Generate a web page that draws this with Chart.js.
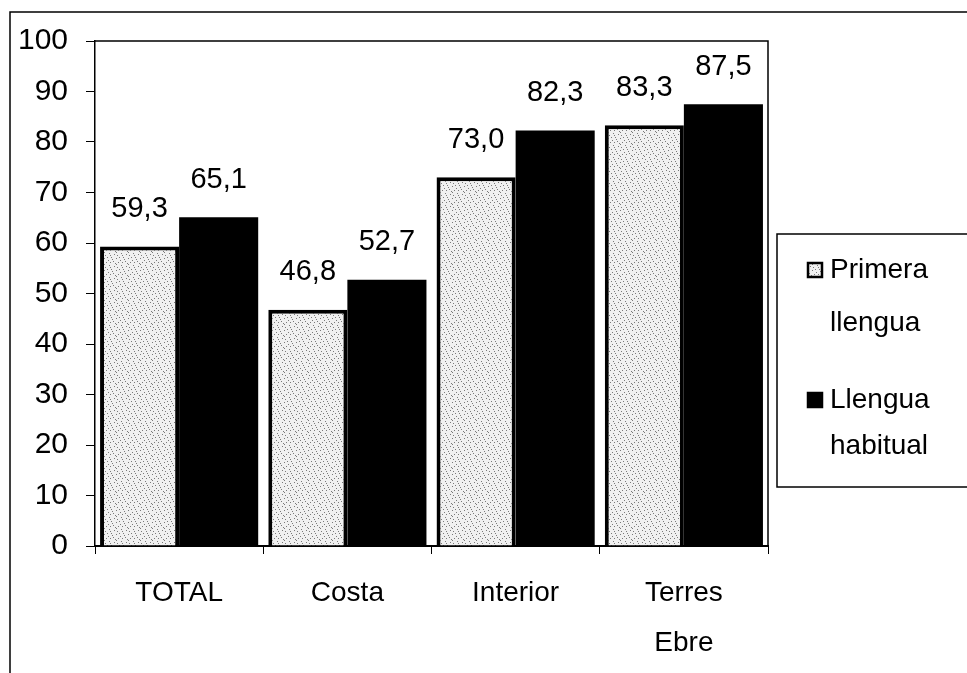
<!DOCTYPE html>
<html>
<head>
<meta charset="utf-8">
<script src="https://cdn.jsdelivr.net/npm/chart.js@4/dist/chart.umd.min.js"></script>
<style>
    body { margin: 0; background: #fff; }
    #wrap { width: 967px; height: 673px; position: relative; }
</style>
</head>
<body>
<div id="wrap"><canvas id="myChart"></canvas></div>
<script>
const categories = ["TOTAL", "Costa", "Interior", ["Terres", "Ebre"]];
const primeraLlengua = [59.3, 46.8, 73.0, 83.3];
const llenguaHabitual = [65.1, 52.7, 82.3, 87.5];
const seriesNames = ["Primera llengua", "Llengua habitual"];
const yTicks = [0, 10, 20, 30, 40, 50, 60, 70, 80, 90, 100];

const FONT = "'Liberation Sans', Arial, sans-serif";

function fmtVal(v) {
    return v.toFixed(1).replace(".", ",");
}

// light stipple, a fixed dot layout
function stipple() {
    const c = document.createElement("canvas");
    c.width = 12;
    c.height = 12;
    const g = c.getContext("2d");
    g.fillStyle = "#f0f0f0";
    g.fillRect(0, 0, 12, 12);
    const dots = [
        [1, 1], [6, 2], [3, 5], [8, 6], [0, 8], [5, 9], [9, 3], [2, 3],
        [10, 10], [7, 11], [11, 5], [4, 7], [8, 0], [2, 10],
    ];
    g.fillStyle = "#7a7a7a";
    for (const [x, y] of dots) {
        g.fillRect(x, y, 1, 1);
    }
    return g.createPattern(c, "repeat");
}

const grayFill = stipple();

const valueLabels = {
    id: "valueLabels",
    afterDatasetsDraw(chart) {
        const ctx = chart.ctx;
        ctx.save();
        ctx.font = `29px ${FONT}`;
        ctx.fillStyle = "#000";
        ctx.textAlign = "center";
        ctx.textBaseline = "bottom";
        chart.data.datasets.forEach((ds, i) => {
            chart.getDatasetMeta(i).data.forEach((bar, j) => {
                ctx.fillText(fmtVal(ds.data[j]), bar.x, bar.y - 23);
            });
        });
        ctx.restore();
    },
};

const frames = {
    id: "frames",
    afterDraw(chart) {
        const ctx = chart.ctx;
        const a = chart.chartArea;
        ctx.save();
        ctx.strokeStyle = "#000";
        ctx.lineWidth = 1.5;
        // outer frame
        ctx.beginPath();
        ctx.moveTo(10, 673);
        ctx.lineTo(10, 12);
        ctx.lineTo(967, 12);
        ctx.stroke();
        // plot frame top and right
        ctx.beginPath();
        ctx.moveTo(a.left, a.top);
        ctx.lineTo(a.right, a.top);
        ctx.lineTo(a.right, a.bottom);
        ctx.stroke();

        // legend box
        ctx.strokeRect(777, 234, 220, 253);
        const fills = [grayFill, "#000"];
        const rows = [270, 400];
        const gaps = [53, 46];
        ctx.font = `28px ${FONT}`;
        ctx.textBaseline = "middle";
        ctx.textAlign = "left";
        chart.data.datasets.forEach((ds, i) => {
            const y = rows[i];
            ctx.fillStyle = fills[i];
            ctx.fillRect(808, y - 7, 14, 14);
            ctx.lineWidth = 2.5;
            ctx.strokeRect(808, y - 7, 14, 14);
            ctx.fillStyle = "#000";
            ds.label.split(" ").forEach((word, k) => {
                ctx.fillText(word, 830, y + k * gaps[i]);
            });
        });
        ctx.restore();
    },
};

function main() {
    const ctx = document.getElementById("myChart");

    new Chart(ctx, {
        type: "bar",
        data: {
            labels: categories,
            datasets: [
                {
                    label: seriesNames[0],
                    data: primeraLlengua,
                    backgroundColor: grayFill,
                    borderColor: "#000",
                    borderWidth: 4,
                    borderSkipped: "bottom",
                    barPercentage: 1,
                    categoryPercentage: 0.94,
                },
                {
                    label: seriesNames[1],
                    data: llenguaHabitual,
                    backgroundColor: "#000",
                    borderWidth: 0,
                    barPercentage: 1,
                    categoryPercentage: 0.94,
                },
            ],
        },
        options: {
            responsive: true,
            maintainAspectRatio: false,
            animation: false,
            layout: {
                padding: { left: 0, top: 41, right: 199, bottom: 0 },
            },
            plugins: {
                legend: { display: false },
                tooltip: { enabled: false },
            },
            scales: {
                x: {
                    afterFit: (s) => { s.height = 127; },
                    grid: {
                        display: true,
                        drawOnChartArea: false,
                        offset: true,
                        color: "#000",
                        tickLength: 8,
                    },
                    border: { color: "#000", width: 2 },
                    ticks: {
                        color: "#000",
                        font: { family: FONT, size: 28, lineHeight: 1.8 },
                        padding: 14,
                        maxRotation: 0,
                    },
                },
                y: {
                    min: 0,
                    max: 100,
                    afterFit: (s) => { s.width = 95; },
                    afterBuildTicks: (s) => {
                        s.ticks = yTicks.map((v) => ({ value: v }));
                    },
                    grid: {
                        display: true,
                        drawOnChartArea: false,
                        color: "#000",
                        tickLength: 9,
                    },
                    border: { color: "#000", width: 1.5 },
                    ticks: {
                        color: "#000",
                        font: { family: FONT, size: 30 },
                        padding: 18,
                    },
                },
            },
        },
        plugins: [valueLabels, frames],
    });
}

main();
</script>
</body>
</html>
